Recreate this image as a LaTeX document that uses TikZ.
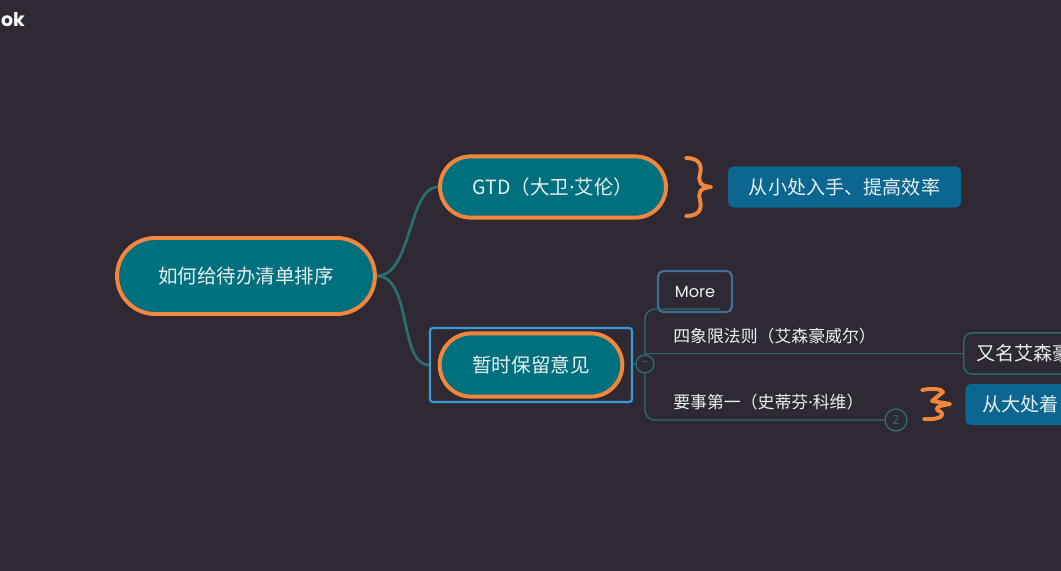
\documentclass[tikz,border=0pt]{standalone}
\usepackage{fontspec}
\setmainfont{Noto Sans CJK SC}
\newfontfamily\uifont{Poppins}
\newfontfamily\dotfont{Noto Sans}
\usepackage{xcolor}
\definecolor{canvas}{HTML}{2F2934}
\definecolor{topicfill}{HTML}{01707E}
\definecolor{rim}{HTML}{F2873C}
\definecolor{tagblue}{HTML}{0B6690}
\definecolor{pick}{HTML}{3A9AD9}
\definecolor{morerim}{HTML}{3F6E93}
\definecolor{branch}{HTML}{2D6C6E}
\definecolor{ink}{HTML}{E8F0F2}
\usepackage{tikz}
\usetikzlibrary{shapes.misc,positioning,fit,backgrounds,calc}
\newcommand{\mdot}{{\dotfont ·}}

\begin{document}
\begin{tikzpicture}[x=0.025cm, y=-0.025cm,
  topic/.style={rounded rectangle, draw=rim, line width=2.8pt, fill=topicfill,
    text=ink, font=\fontsize{13.9}{16}\selectfont},
  tag/.style={rounded corners=4pt, fill=tagblue, text=ink, minimum height=1.03cm,
    font=\fontsize{13.6}{16}\selectfont},
  aside/.style={rounded corners=6pt, draw=branch, line width=1pt, fill=canvas,
    text=ink, minimum height=1.03cm, font=\fontsize{13.6}{16}\selectfont},
  twig/.style={text=ink, font=\fontsize{12}{14}\selectfont, inner sep=0pt},
  knob/.style={circle, draw=branch, line width=1pt, fill=canvas, inner sep=0pt},
  link/.style={branch, line width=2pt},
  sub/.style={branch, line width=1pt},
  squig/.style={rim, line width=2.8pt, line cap=round, line join=round}]

  \useasboundingbox (0,0) rectangle (1061,571);
  \clip (0,0) rectangle (1061,571);
  \fill[canvas] (0,0) rectangle (1061,571);

  \node[text=white, font=\uifont\bfseries\fontsize{13.5}{14}\selectfont] (corner) at (13,20) {ok};

  % Centre et branches principales
  \node[topic, minimum width=6.68cm, minimum height=1.9cm] (root) at (246,276) {如何给待办清单排序};
  \node[topic, minimum width=5.88cm, minimum height=1.53cm] (gtd) at (553,187) {GTD（大卫\mdot 艾伦）};
  \node[topic, minimum width=4.8cm, minimum height=1.58cm] (hold) at (531,365) {暂时保留意见};
  \node[draw=pick, line width=1.6pt, rounded corners=2pt, minimum width=5.05cm,
    minimum height=1.85cm] (sel) at (531,365) {};

  \node[tag, minimum width=5.83cm] (small) at (844.5,187) {从小处入手、提高效率};

  \node[rounded corners=4pt, draw=morerim, line width=1.6pt, minimum width=1.85cm,
    minimum height=1.03cm, text=ink, font=\uifont\fontsize{11.5}{14}\selectfont] (more) at (695,291.5) {More};

  \node[knob, minimum size=0.45cm, font=\fontsize{9}{9}\selectfont, text=branch] (fold) at (645,364) {−};
  \node[knob, minimum size=0.55cm, font=\fontsize{9}{9}\selectfont, text=branch] (cnt) at (896,420) {2};

  \node[aside, anchor=west, align=left, inner xsep=9pt, text width=3cm] (alias) at (963,353.5) {又名艾森豪};
  \node[tag, anchor=west, align=left, inner xsep=12pt, text width=3cm] (big) at (965,404.5) {从大处着};

  \node[twig, anchor=west] (quad) at (673,336) {四象限法则（艾森豪威尔）};
  \node[twig, anchor=west] (first) at (673,402) {要事第一（史蒂芬\mdot 科维）};

  % Liaisons
  \draw[link] (root.east) .. controls +(35,0) and +(-30,0) .. (gtd.west);
  \draw[link] (root.east) .. controls +(35,0) and +(-30,0) .. (sel.west);
  \draw[sub] (sel.east) -- (fold.west);
  \coordinate (moreend) at (720,309);
  \draw[sub, rounded corners=7pt] (fold.north) |- (moreend);
  \draw[sub] (fold.north |- alias.west) -- (alias.west);
  \draw[sub, rounded corners=7pt] (fold.south) |- (cnt.west);

  % Accolades
  \draw[squig] (686,158) .. controls (700,158) and (702,166) .. (700,174)
    .. controls (698,182) and (700,186) .. (711,187)
    .. controls (700,188) and (698,192) .. (700,200)
    .. controls (702,208) and (700,216) .. (686,216);
  \draw[squig] (922,390) .. controls (932,388) and (942,389) .. (943,392)
    -- (932,401) -- (950,404)
    .. controls (938,406) and (932,408) .. (941,412)
    .. controls (946,418) and (932,420) .. (924,419);
\end{tikzpicture}
\end{document}
